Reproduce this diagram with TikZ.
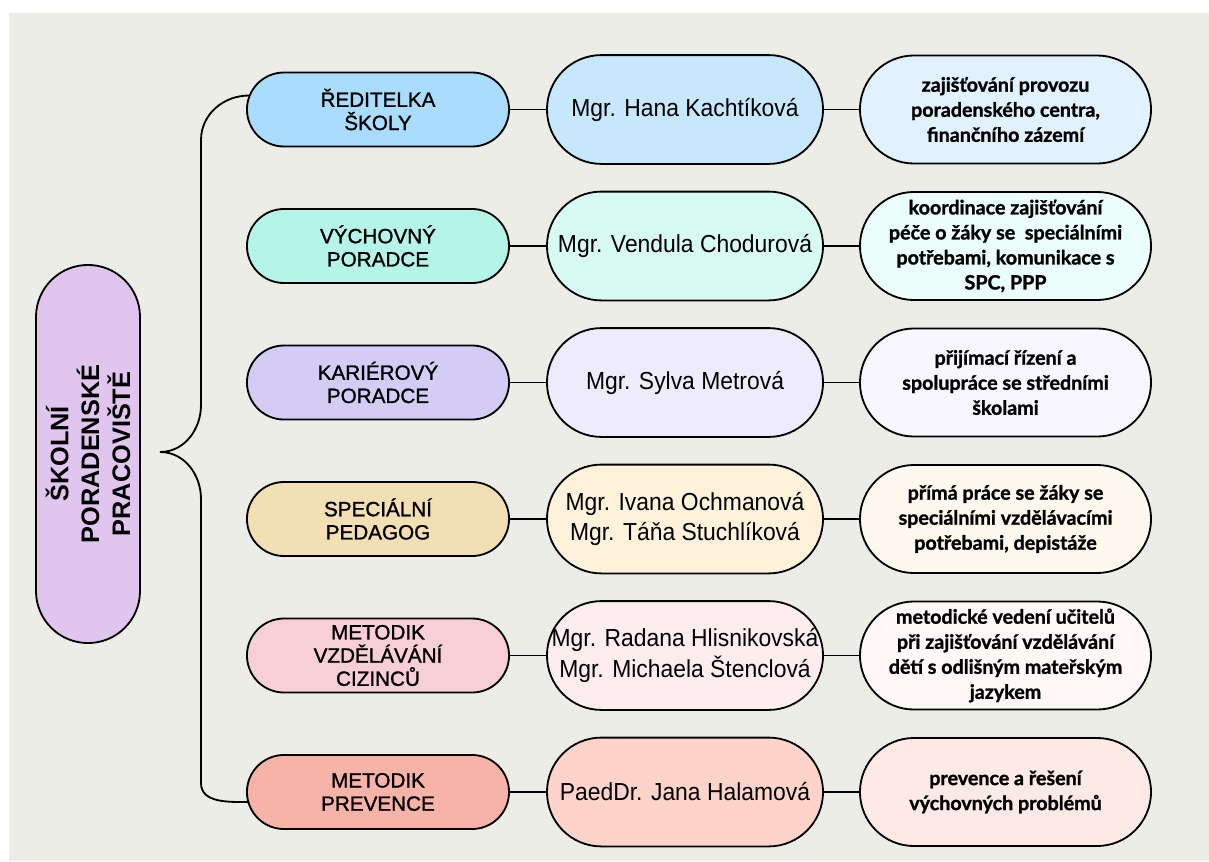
\documentclass[tikz,border=0pt]{standalone}
\usepackage{fontspec}
\setmainfont{Liberation Sans}
\newfontfamily\namefont[FakeStretch=0.93]{Liberation Sans}
\newfontfamily\rolefont[FakeBold=1.2]{Liberation Sans}
\newfontfamily\taskfont[BoldFeatures={FakeBold=1.3}]{Lato}

\definecolor{bgray}{HTML}{EDEDE8}
\definecolor{sppcol}{HTML}{E0C5EF}
\definecolor{r1a}{HTML}{A9DCFD}\definecolor{r1b}{HTML}{C6E7FC}\definecolor{r1c}{HTML}{E1F2FE}
\definecolor{r2a}{HTML}{B5F5E8}\definecolor{r2b}{HTML}{D7FBF3}\definecolor{r2c}{HTML}{EBFEFB}
\definecolor{r3a}{HTML}{D4CCF5}\definecolor{r3b}{HTML}{EEEBFD}\definecolor{r3c}{HTML}{F8F7FF}
\definecolor{r4a}{HTML}{F2DFB4}\definecolor{r4b}{HTML}{FEF2DB}\definecolor{r4c}{HTML}{FEF8EE}
\definecolor{r5a}{HTML}{F8CFD6}\definecolor{r5b}{HTML}{FEEDF0}\definecolor{r5c}{HTML}{FFF7F8}
\definecolor{r6a}{HTML}{F7B3A7}\definecolor{r6b}{HTML}{FDD3CA}\definecolor{r6c}{HTML}{FDE9E6}

\begin{document}
\begin{tikzpicture}[x=0.025cm, y=0.025cm, line width=1.3pt,
    role/.style={draw, rounded corners=0.925cm, minimum width=6.55cm, minimum height=1.85cm,
        align=center, inner sep=0pt, font=\rolefont\fontsize{14.7}{16.5}\selectfont},
    person/.style={draw, rounded corners=1.36cm, minimum width=6.9cm, minimum height=2.72cm,
        align=center, inner sep=0pt, font=\namefont\fontsize{17.5}{22}\selectfont},
    task/.style={draw, rounded corners=1.35cm, minimum width=7.275cm, minimum height=2.7cm,
        align=center, inner sep=0pt, font=\taskfont\bfseries\fontsize{14}{17.8}\selectfont}]

        \def\rowstep{-136.5}  % distance between the rows
        \def\rowtop{-109.5}
        \useasboundingbox (0,0) rectangle (1209,-861);
        \fill[white] (0,0) rectangle (1209,-861);
        \fill[bgray] (9,-13) rectangle (1209,-861);

        % Left block
        \node[draw, fill=sppcol, rounded corners=1.3cm, minimum width=9.45cm, minimum height=2.6cm,
            rotate=90, align=center, inner sep=0pt, font=\bfseries\fontsize{18}{22}\selectfont]
            (spp) at (88,-454) {ŠKOLNÍ\\PORADENSKÉ\\PRACOVIŠTĚ};
        \coordinate (tip) at ([shift={(72,2)}]spp.center);

        % Rows: role, person, task
        \node[role, fill=r1a] (role1) at (378,\rowtop) {ŘEDITELKA\\ŠKOLY};
        \node[person, fill=r1b] (name1) at (685,\rowtop) {Mgr. Hana Kachtíková};
        \node[task, fill=r1c] (task1) at (1005.5,\rowtop) {zajišťování provozu\\poradenského centra,\\finančního zázemí};

        \node[role, fill=r2a] (role2) at (378,\rowtop+\rowstep) {VÝCHOVNÝ\\PORADCE};
        \node[person, fill=r2b] (name2) at (685,\rowtop+\rowstep) {Mgr. Vendula Chodurová};
        \node[task, fill=r2c] (task2) at (1005.5,\rowtop+\rowstep) {koordinace zajišťování\\péče o žáky se\ \ speciálními\\potřebami, komunikace s\\SPC, PPP};

        \node[role, fill=r3a] (role3) at (378,\rowtop+2*\rowstep) {KARIÉROVÝ\\PORADCE};
        \node[person, fill=r3b] (name3) at (685,\rowtop+2*\rowstep) {Mgr. Sylva Metrová};
        \node[task, fill=r3c] (task3) at (1005.5,\rowtop+2*\rowstep) {přijímací řízení a\\spolupráce se středními\\školami};

        \node[role, fill=r4a] (role4) at (378,\rowtop+3*\rowstep) {SPECIÁLNÍ\\PEDAGOG};
        \node[person, fill=r4b] (name4) at (685,\rowtop+3*\rowstep) {Mgr. Ivana Ochmanová\\Mgr. Táňa Stuchlíková};
        \node[task, fill=r4c] (task4) at (1005.5,\rowtop+3*\rowstep) {přímá práce se žáky se\\speciálními vzdělávacími\\potřebami, depistáže};

        \node[role, fill=r5a] (role5) at (378,\rowtop+4*\rowstep) {METODIK\\VZDĚLÁVÁNÍ\\CIZINCŮ};
        \node[person, fill=r5b] (name5) at (685,\rowtop+4*\rowstep) {Mgr. Radana Hlisnikovská\\Mgr. Michaela Štenclová};
        \node[task, fill=r5c] (task5) at (1005.5,\rowtop+4*\rowstep) {metodické vedení učitelů\\při zajišťování vzdělávání\\dětí s odlišným mateřským\\jazykem};

        \node[role, fill=r6a] (role6) at (378,\rowtop+5*\rowstep) {METODIK\\PREVENCE};
        \node[person, fill=r6b] (name6) at (685,\rowtop+5*\rowstep) {PaedDr. Jana Halamová};
        \node[task, fill=r6c] (task6) at (1005.5,\rowtop+5*\rowstep) {prevence a řešení\\výchovných problémů};

        % Connectors
        \draw (role1.east) -- (name1.west);  \draw (name1.east) -- (task1.west);
        \draw (role2.east) -- (name2.west);  \draw (name2.east) -- (task2.west);
        \draw (role3.east) -- (name3.west);  \draw (name3.east) -- (task3.west);
        \draw (role4.east) -- (name4.west);  \draw (name4.east) -- (task4.west);
        \draw (role5.east) -- (name5.west);  \draw (name5.east) -- (task5.west);
        \draw (role6.east) -- (name6.west);  \draw (name6.east) -- (task6.west);

        % Brace
        \draw ([shift={(3,14)}]role1.west) to[out=180,in=90] (201,-140) -- (201,-405)
            to[out=-90,in=0] (tip) to[out=0,in=90] (201,-499) -- (201,-783)
            to[out=-90,in=180] ([shift={(3,-10)}]role6.west);

    \end{tikzpicture}
\end{document}
